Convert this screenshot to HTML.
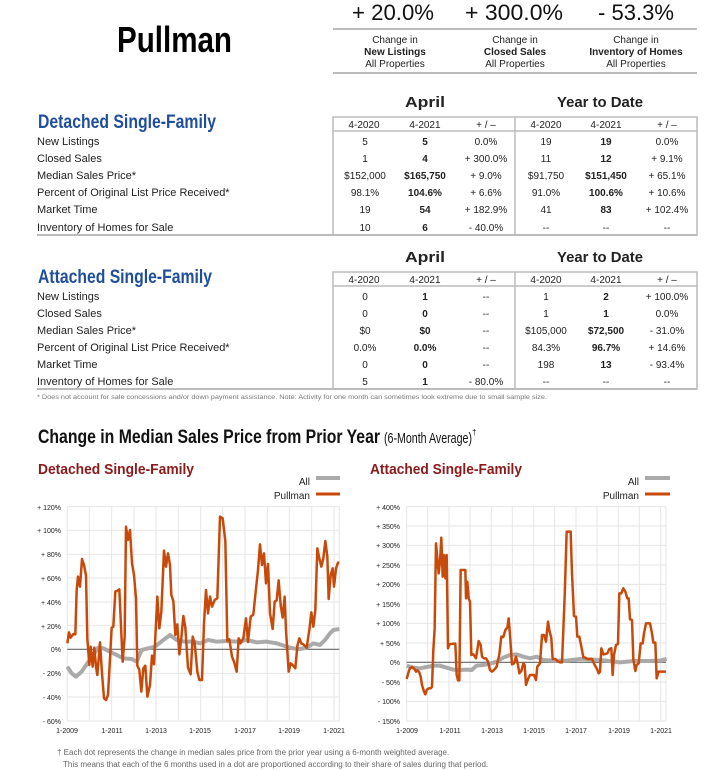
<!DOCTYPE html>
<html><head><meta charset="utf-8"><style>
html,body{margin:0;padding:0;background:#fff}
svg{display:block}
text{font-family:"Liberation Sans Narrow","Liberation Sans",sans-serif;fill:#222}
.t{font-size:11px}
.c{text-anchor:middle}
.b{font-weight:bold}
.ax{font-size:7px;fill:#555;font-family:"Liberation Sans",sans-serif}
</style></head><body>
<svg width="725" height="770" viewBox="0 0 725 770" xmlns="http://www.w3.org/2000/svg">
<!-- Header -->
<text x="117" y="52" class="b" style="font-size:36px;fill:#000" textLength="115" lengthAdjust="spacingAndGlyphs">Pullman</text>
<text x="352" y="20" style="font-size:22px;fill:#111" textLength="82" lengthAdjust="spacingAndGlyphs">+ 20.0%</text>
<text x="465" y="20" style="font-size:22px;fill:#111" textLength="98" lengthAdjust="spacingAndGlyphs">+ 300.0%</text>
<text x="598" y="20" style="font-size:22px;fill:#111" textLength="76" lengthAdjust="spacingAndGlyphs">- 53.3%</text>
<line x1="333" y1="29" x2="697" y2="29" stroke="#bbb" stroke-width="2"/>
<line x1="333" y1="73" x2="697" y2="73" stroke="#bbb" stroke-width="2"/>
<g style="font-size:10px">
<text x="395" y="43" class="c">Change in</text>
<text x="515" y="43" class="c">Change in</text>
<text x="636" y="43" class="c">Change in</text>
<text x="395" y="55" class="c b">New Listings</text>
<text x="515" y="55" class="c b">Closed Sales</text>
<text x="636" y="55" class="c b">Inventory of Homes</text>
<text x="395" y="67" class="c">All Properties</text>
<text x="515" y="67" class="c">All Properties</text>
<text x="636" y="67" class="c">All Properties</text>
</g>

<!-- Detached table -->
<text x="405" y="107" class="b" style="font-size:15px" textLength="40" lengthAdjust="spacingAndGlyphs">April</text>
<text x="557" y="107" class="b" style="font-size:15px" textLength="86" lengthAdjust="spacingAndGlyphs">Year to Date</text>
<text x="38" y="128" class="b" style="font-size:19px;fill:#1f4e9c" textLength="178" lengthAdjust="spacingAndGlyphs">Detached Single-Family</text>
<rect x="333" y="117" width="364" height="118" fill="none" stroke="#bbb" stroke-width="1.5"/>
<line x1="333" y1="131" x2="697" y2="131" stroke="#bbb" stroke-width="1.5"/>
<line x1="515" y1="117" x2="515" y2="235" stroke="#bbb" stroke-width="1.5"/>
<line x1="37" y1="235" x2="697" y2="235" stroke="#bbb" stroke-width="2"/>
<g style="font-size:10px">
<text x="364" y="128" class="c">4-2020</text><text x="425" y="128" class="c">4-2021</text><text x="486" y="128" class="c">+ / –</text>
<text x="546" y="128" class="c">4-2020</text><text x="606" y="128" class="c">4-2021</text><text x="667" y="128" class="c">+ / –</text>
</g>
<g class="t">
<text x="37" y="145">New Listings</text>
<text x="37" y="162">Closed Sales</text>
<text x="37" y="179">Median Sales Price*</text>
<text x="37" y="196">Percent of Original List Price Received*</text>
<text x="37" y="213">Market Time</text>
<text x="37" y="231">Inventory of Homes for Sale</text>
</g>
<g style="font-size:10px">
<text x="365" y="145" class="c">5</text><text x="425" y="145" class="c b">5</text><text x="486" y="145" class="c">0.0%</text><text x="546" y="145" class="c">19</text><text x="606" y="145" class="c b">19</text><text x="667" y="145" class="c">0.0%</text>
<text x="365" y="162" class="c">1</text><text x="425" y="162" class="c b">4</text><text x="486" y="162" class="c">+ 300.0%</text><text x="546" y="162" class="c">11</text><text x="606" y="162" class="c b">12</text><text x="667" y="162" class="c">+ 9.1%</text>
<text x="365" y="179" class="c">$152,000</text><text x="425" y="179" class="c b">$165,750</text><text x="486" y="179" class="c">+ 9.0%</text><text x="546" y="179" class="c">$91,750</text><text x="606" y="179" class="c b">$151,450</text><text x="667" y="179" class="c">+ 65.1%</text>
<text x="365" y="196" class="c">98.1%</text><text x="425" y="196" class="c b">104.6%</text><text x="486" y="196" class="c">+ 6.6%</text><text x="546" y="196" class="c">91.0%</text><text x="606" y="196" class="c b">100.6%</text><text x="667" y="196" class="c">+ 10.6%</text>
<text x="365" y="213" class="c">19</text><text x="425" y="213" class="c b">54</text><text x="486" y="213" class="c">+ 182.9%</text><text x="546" y="213" class="c">41</text><text x="606" y="213" class="c b">83</text><text x="667" y="213" class="c">+ 102.4%</text>
<text x="365" y="231" class="c">10</text><text x="425" y="231" class="c b">6</text><text x="486" y="231" class="c">- 40.0%</text><text x="546" y="231" class="c">--</text><text x="606" y="231" class="c">--</text><text x="667" y="231" class="c">--</text>
</g>

<!-- Attached table -->
<text x="405" y="262" class="b" style="font-size:15px" textLength="40" lengthAdjust="spacingAndGlyphs">April</text>
<text x="557" y="262" class="b" style="font-size:15px" textLength="86" lengthAdjust="spacingAndGlyphs">Year to Date</text>
<text x="38" y="283" class="b" style="font-size:19px;fill:#1f4e9c" textLength="174" lengthAdjust="spacingAndGlyphs">Attached Single-Family</text>
<rect x="333" y="272" width="364" height="117" fill="none" stroke="#bbb" stroke-width="1.5"/>
<line x1="333" y1="286" x2="697" y2="286" stroke="#bbb" stroke-width="1.5"/>
<line x1="515" y1="272" x2="515" y2="389" stroke="#bbb" stroke-width="1.5"/>
<line x1="37" y1="389" x2="697" y2="389" stroke="#bbb" stroke-width="2"/>
<g style="font-size:10px">
<text x="364" y="283" class="c">4-2020</text><text x="425" y="283" class="c">4-2021</text><text x="486" y="283" class="c">+ / –</text>
<text x="546" y="283" class="c">4-2020</text><text x="606" y="283" class="c">4-2021</text><text x="667" y="283" class="c">+ / –</text>
</g>
<g class="t">
<text x="37" y="300">New Listings</text>
<text x="37" y="317">Closed Sales</text>
<text x="37" y="334">Median Sales Price*</text>
<text x="37" y="351">Percent of Original List Price Received*</text>
<text x="37" y="368">Market Time</text>
<text x="37" y="385">Inventory of Homes for Sale</text>
</g>
<g style="font-size:10px">
<text x="365" y="300" class="c">0</text><text x="425" y="300" class="c b">1</text><text x="486" y="300" class="c">--</text><text x="546" y="300" class="c">1</text><text x="606" y="300" class="c b">2</text><text x="667" y="300" class="c">+ 100.0%</text>
<text x="365" y="317" class="c">0</text><text x="425" y="317" class="c b">0</text><text x="486" y="317" class="c">--</text><text x="546" y="317" class="c">1</text><text x="606" y="317" class="c b">1</text><text x="667" y="317" class="c">0.0%</text>
<text x="365" y="334" class="c">$0</text><text x="425" y="334" class="c b">$0</text><text x="486" y="334" class="c">--</text><text x="546" y="334" class="c">$105,000</text><text x="606" y="334" class="c b">$72,500</text><text x="667" y="334" class="c">- 31.0%</text>
<text x="365" y="351" class="c">0.0%</text><text x="425" y="351" class="c b">0.0%</text><text x="486" y="351" class="c">--</text><text x="546" y="351" class="c">84.3%</text><text x="606" y="351" class="c b">96.7%</text><text x="667" y="351" class="c">+ 14.6%</text>
<text x="365" y="368" class="c">0</text><text x="425" y="368" class="c b">0</text><text x="486" y="368" class="c">--</text><text x="546" y="368" class="c">198</text><text x="606" y="368" class="c b">13</text><text x="667" y="368" class="c">- 93.4%</text>
<text x="365" y="385" class="c">5</text><text x="425" y="385" class="c b">1</text><text x="486" y="385" class="c">- 80.0%</text><text x="546" y="385" class="c">--</text><text x="606" y="385" class="c">--</text><text x="667" y="385" class="c">--</text>
</g>
<text x="37" y="399" style="font-size:6.5px;fill:#777" textLength="510" lengthAdjust="spacingAndGlyphs">* Does not account for sale concessions and/or down payment assistance. Note: Activity for one month can sometimes look extreme due to small sample size.</text>

<text x="38" y="443" class="b" style="font-size:19px;fill:#111" textLength="342" lengthAdjust="spacingAndGlyphs">Change in Median Sales Price from Prior Year</text>
<text x="384" y="443" style="font-size:15px;fill:#111" textLength="88" lengthAdjust="spacingAndGlyphs">(6-Month Average)</text>
<text x="472" y="435" style="font-size:8px;fill:#111">†</text>

<!-- Left chart -->
<text x="38" y="474" class="b" style="font-size:15px;fill:#8b1a1a" textLength="156" lengthAdjust="spacingAndGlyphs">Detached Single-Family</text>
<text x="310" y="485" style="font-size:10px;text-anchor:end">All</text>
<line x1="316" y1="478" x2="340" y2="478" stroke="#aaa" stroke-width="4"/>
<text x="310" y="499" style="font-size:10px;text-anchor:end">Pullman</text>
<line x1="316" y1="494" x2="340" y2="494" stroke="#c84a0a" stroke-width="3"/>
<g transform="translate(0,455) scale(0.33333)">
<path vector-effect="non-scaling-stroke" fill="none" stroke="#e6e6e6" stroke-width="1" d="M202 155H1018M202 226H1018M202 298H1018M202 369H1018M202 441H1018M202 512H1018M202 655H1018M202 726H1018M202 798H1018M268 155V798M335 155V798M402 155V798M468 155V798M535 155V798M602 155V798M668 155V798M735 155V798M802 155V798M868 155V798M935 155V798M1002 155V798M1018 155V798M202 155V798"/>
<path vector-effect="non-scaling-stroke" d="M202 583H1018" stroke="#666" stroke-width="1.2"/>
<polyline vector-effect="non-scaling-stroke" fill="none" stroke="#aaa" stroke-width="4" stroke-linejoin="round" points="202,635 215,655 228,665 245,650 262,625 280,600 295,578 310,580 330,590 350,600 370,610 395,612 410,620 425,585 445,580 465,575 490,555 510,540 530,555 555,560 580,560 600,565 625,555 650,560 680,558 710,560 740,555 770,562 800,560 830,565 860,575 880,580 900,582 920,578 940,565 960,570 975,555 990,535 1000,525 1018,522"/>
<polyline vector-effect="non-scaling-stroke" fill="none" stroke="#c84a0a" stroke-width="2.5" stroke-linejoin="round" points="202,565 207,532 212,548 220,537 226,538 230,405 234,365 240,395 246,312 252,330 258,362 262,550 268,630 272,575 278,635 283,578 288,635 292,660 300,562 306,655 312,730 318,735 324,720 330,612 335,518 340,515 346,410 352,407 358,403 364,535 368,620 374,545 378,215 384,255 390,225 396,325 402,360 408,430 412,632 418,645 424,710 430,640 436,632 442,725 450,690 456,602 462,628 472,425 478,520 484,470 492,287 498,335 504,295 510,330 514,420 520,438 526,540 532,508 538,598 544,548 550,483 556,518 564,638 572,658 578,545 584,564 592,650 598,675 606,675 612,505 618,405 624,475 630,425 636,455 644,435 652,430 660,185 668,190 676,258 682,558 688,553 696,605 702,620 710,650 716,550 722,565 730,550 738,490 744,561 752,485 760,479 766,420 774,345 780,268 786,330 792,295 798,385 804,327 810,475 818,522 824,440 830,436 836,376 842,450 848,488 854,425 858,525 866,650 872,625 878,630 886,640 892,573 898,550 904,565 910,568 920,578 928,525 934,472 940,515 946,465 952,280 958,310 964,335 970,310 976,258 982,305 986,432 992,360 998,340 1002,395 1008,340 1014,323 1018,323"/>
</g>
<g class="ax" style="text-anchor:end">
<text x="61" y="510">+ 120%</text><text x="61" y="533">+ 100%</text><text x="61" y="557">+ 80%</text><text x="61" y="581">+ 60%</text><text x="61" y="605">+ 40%</text><text x="61" y="629">+ 20%</text><text x="61" y="652">0%</text><text x="61" y="676">- 20%</text><text x="61" y="700">- 40%</text><text x="61" y="724">- 60%</text>
</g>
<g class="ax" style="text-anchor:middle">
<text x="67" y="733">1-2009</text><text x="112" y="733">1-2011</text><text x="156" y="733">1-2013</text><text x="200" y="733">1-2015</text><text x="245" y="733">1-2017</text><text x="289" y="733">1-2019</text><text x="334" y="733">1-2021</text>
</g>

<!-- Right chart -->
<text x="370" y="474" class="b" style="font-size:15px;fill:#8b1a1a" textLength="152" lengthAdjust="spacingAndGlyphs">Attached Single-Family</text>
<text x="639" y="485" style="font-size:10px;text-anchor:end">All</text>
<line x1="645" y1="478" x2="670" y2="478" stroke="#aaa" stroke-width="4"/>
<text x="639" y="499" style="font-size:10px;text-anchor:end">Pullman</text>
<line x1="645" y1="494" x2="670" y2="494" stroke="#c84a0a" stroke-width="3"/>
<g transform="translate(360,455) scale(0.33333)">
<path vector-effect="non-scaling-stroke" fill="none" stroke="#e6e6e6" stroke-width="1" d="M140 155H918M140 213H918M140 271H918M140 330H918M140 388H918M140 447H918M140 505H918M140 564H918M140 681H918M140 739H918M140 798H918M140 155V798M203 155V798M267 155V798M330 155V798M394 155V798M457 155V798M521 155V798M584 155V798M648 155V798M711 155V798M775 155V798M838 155V798M902 155V798M918 155V798"/>
<path vector-effect="non-scaling-stroke" d="M140 622H918" stroke="#666" stroke-width="1.2"/>
<polyline vector-effect="non-scaling-stroke" fill="none" stroke="#aaa" stroke-width="4" stroke-linejoin="round" points="140,632 160,638 180,640 200,636 220,632 240,632 260,638 280,644 300,645 320,644 335,645 350,632 370,630 390,626 410,620 430,608 450,600 470,598 490,605 510,610 530,605 550,615 580,617 620,617 660,612 700,614 740,617 780,622 820,618 860,618 900,617 920,612"/>
<polyline vector-effect="non-scaling-stroke" fill="none" stroke="#c84a0a" stroke-width="2.5" stroke-linejoin="round" points="140,672 146,650 150,640 156,636 162,640 168,650 172,646 178,652 182,665 186,690 192,710 196,718 200,705 206,700 212,700 216,695 220,585 224,520 228,265 232,310 236,355 240,320 244,248 248,365 252,300 256,370 260,300 264,580 268,568 274,567 280,566 286,566 290,660 294,676 298,676 302,345 308,345 316,345 318,430 322,380 326,430 330,440 334,600 340,598 348,610 356,558 362,570 366,605 372,610 378,610 384,620 390,645 396,650 402,645 410,635 418,598 424,545 430,546 436,525 442,518 446,490 450,540 456,628 462,625 468,605 474,630 478,655 484,648 490,625 494,630 498,690 504,672 510,660 516,660 522,660 528,675 532,635 540,625 546,540 552,540 558,560 564,500 568,525 574,550 578,612 586,612 592,618 600,622 606,622 610,525 614,425 620,230 626,230 632,230 636,355 642,483 648,485 652,545 658,545 664,575 670,607 676,608 682,612 690,612 696,612 704,630 710,640 716,655 720,650 724,580 730,598 736,597 742,595 748,582 754,580 758,660 762,600 768,570 774,567 778,415 784,415 790,400 796,410 802,430 806,430 810,493 816,495 820,612 826,648 830,630 836,625 842,565 848,565 852,535 858,505 864,505 870,505 876,535 880,563 886,563 890,670 896,650 904,650 912,650 918,650"/>
</g>
<g class="ax" style="text-anchor:end">
<text x="400" y="510">+ 400%</text><text x="400" y="529">+ 350%</text><text x="400" y="548">+ 300%</text><text x="400" y="568">+ 250%</text><text x="400" y="587">+ 200%</text><text x="400" y="607">+ 150%</text><text x="400" y="626">+ 100%</text><text x="400" y="646">+ 50%</text><text x="400" y="665">0%</text><text x="400" y="685">- 50%</text><text x="400" y="704">- 100%</text><text x="400" y="724">- 150%</text>
</g>
<g class="ax" style="text-anchor:middle">
<text x="407" y="733">1-2009</text><text x="450" y="733">1-2011</text><text x="492" y="733">1-2013</text><text x="534" y="733">1-2015</text><text x="576" y="733">1-2017</text><text x="619" y="733">1-2019</text><text x="661" y="733">1-2021</text>
</g>

<text x="57" y="755" style="font-size:8px;fill:#666;font-family:'Liberation Sans',sans-serif">† Each dot represents the change in median sales price from the prior year using a 6-month weighted average.</text>
<text x="63" y="767" style="font-size:8px;fill:#666;font-family:'Liberation Sans',sans-serif">This means that each of the 6 months used in a dot are proportioned according to their share of sales during that period.</text>
</svg>
</body></html>
